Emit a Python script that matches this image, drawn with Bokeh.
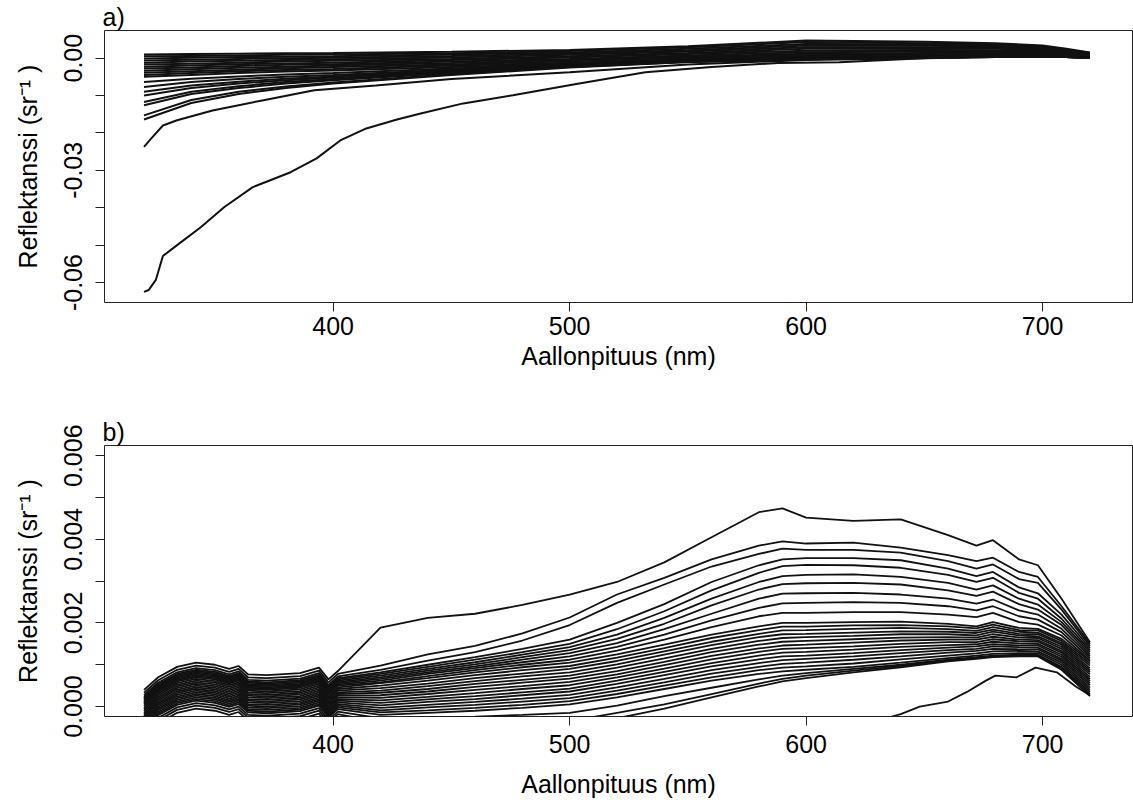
from bokeh.plotting import figure
from bokeh.layouts import column
from bokeh.models import Range1d, FixedTicker, NumeralTickFormatter
from bokeh.embed import file_html
from bokeh.resources import INLINE

FONT = "Liberation Sans"

# ---------------- shared axis data ----------------
X_TICKS = [400, 500, 600, 700]
X_TITLE = "Aallonpituus (nm)"
Y_TITLE = "Reflektanssi (sr\u207b\u00b9 )"

# ---------------- panel a (values in 1e-4 sr^-1) ----------------
A_WL = [320, 340, 360, 380, 400, 450, 500, 550, 600, 650, 680, 700, 710, 720]
A_DENSE = [
    [10, 11, 12, 13, 14, 17, 22, 32, 47, 44, 40, 34, 25, 15],
    [5, 6, 7, 9, 10, 13, 19, 29, 43, 40, 37, 32, 23, 14],
    [-1, 1, 3, 4, 5, 10, 15, 25, 38, 37, 34, 29, 21, 13],
    [-6, -4, -2, 0, 1, 6, 12, 21, 34, 33, 31, 27, 20, 11],
    [-12, -9, -7, -5, -3, 2, 9, 18, 29, 29, 28, 24, 18, 10],
    [-17, -15, -12, -9, -7, -2, 5, 14, 25, 25, 25, 22, 16, 9],
    [-23, -20, -16, -14, -12, -5, 2, 11, 20, 22, 21, 19, 14, 8],
    [-28, -25, -21, -18, -16, -9, -2, 7, 16, 18, 18, 17, 12, 7],
    [-34, -30, -26, -23, -20, -13, -5, 4, 12, 14, 15, 14, 10, 6],
    [-39, -35, -31, -27, -24, -17, -8, 1, 9, 11, 12, 12, 9, 4],
    [-45, -40, -35, -32, -29, -20, -12, -2, 6, 8, 9, 10, 7, 3],
    [-50, -45, -40, -36, -33, -24, -15, -5, 3, 5, 7, 7, 5, 2],
]
A_SPARSE = [
    [-64, -55, -49, -44, -40, -28, -17, -6, 0, 3, 5, 6, 4, 2],
    [-77, -64, -56, -50, -45, -31, -19, -7, -1, 3, 5, 5, 4, 1],
    [-90, -73, -63, -55, -49, -34, -20, -8, -1, 2, 4, 5, 3, 1],
    [-100, -80, -68, -59, -52, -36, -21, -8, -2, 2, 4, 5, 3, 1],
    [-117, -90, -75, -64, -56, -38, -22, -9, -2, 2, 4, 5, 3, 1],
    [-126, -96, -80, -68, -59, -40, -23, -9, -2, 2, 4, 5, 3, 1],
    [-153, -112, -90, -76, -65, -43, -24, -10, -3, 1, 3, 5, 3, 1],
    [-164, -120, -96, -80, -68, -45, -25, -10, -3, 1, 3, 5, 3, 1],
]
A2_WL = [320, 323, 328, 334, 349, 370, 392, 418, 450, 500, 550, 600, 650, 680, 700, 720]
A2 = [-237, -215, -180, -166, -140, -113, -86, -73, -56, -38, -17, -5, 0, 3, 5, 1]
A1_WL = [320, 322, 325, 328, 334, 344, 354, 366, 382, 393, 403, 414, 427, 437,
         455, 476, 504, 532, 560, 588, 614, 656, 684, 700, 720]
A1 = [-625, -620, -593, -529, -500, -452, -398, -345, -305, -268, -220, -188, -164, -148,
      -121, -99, -68, -38, -24, -13, -11, 2, 7, 10, 8]
A_YTICKS = [-0.06, -0.03, 0.0]
A_YMINOR = [-0.05, -0.04, -0.02, -0.01]

# ---------------- panel b (values in 1e-5 sr^-1) ----------------
B_WL = [320, 326, 334, 342, 350, 356, 360, 364, 372, 386, 394, 398, 402,
        420, 440, 460, 480, 500, 520, 540, 560, 580, 590, 600, 620, 640,
        660, 672, 679, 690, 698, 708, 720]
B_UPPER = [
    [40, 70, 95, 105, 100, 90, 97, 77, 75, 80, 93, 65, 85,
     189, 212, 222, 243, 268, 298, 345, 405, 465, 474, 452, 444, 448, 410, 385, 398, 352, 338, 258, 154],
    [33, 63, 88, 98, 93, 83, 90, 70, 68, 73, 86, 58, 78,
     98, 125, 145, 175, 213, 268, 308, 352, 385, 395, 390, 392, 380, 362, 348, 356, 322, 310, 240, 150],
    [27, 57, 82, 92, 87, 77, 84, 64, 62, 67, 80, 52, 72,
     88, 110, 130, 158, 195, 248, 292, 335, 365, 378, 375, 375, 368, 348, 330, 340, 305, 296, 232, 145],
    [23, 53, 78, 88, 83, 73, 80, 60, 58, 63, 76, 48, 68,
     82, 100, 118, 138, 160, 200, 245, 298, 338, 352, 355, 355, 350, 330, 312, 322, 285, 271, 220, 140],
    [20, 50, 75, 85, 80, 70, 77, 57, 55, 60, 73, 45, 65,
     78, 95, 112, 130, 150, 185, 228, 278, 320, 336, 339, 338, 332, 315, 298, 308, 272, 258, 210, 135],
    [17, 47, 72, 82, 77, 67, 74, 54, 52, 57, 70, 42, 62,
     74, 90, 106, 124, 142, 172, 212, 258, 298, 312, 315, 316, 310, 296, 280, 290, 258, 244, 202, 130],
    [14, 44, 69, 79, 74, 64, 71, 51, 49, 54, 67, 39, 59,
     70, 86, 101, 118, 135, 162, 198, 242, 280, 293, 295, 296, 292, 278, 265, 275, 245, 232, 195, 125],
    [11, 41, 66, 76, 71, 61, 68, 48, 46, 51, 64, 36, 56,
     66, 82, 96, 112, 128, 152, 185, 222, 258, 270, 271, 272, 268, 258, 246, 256, 230, 220, 186, 120],
    [8, 38, 63, 73, 68, 58, 65, 45, 43, 48, 61, 33, 53,
     62, 78, 92, 106, 120, 143, 172, 206, 236, 247, 248, 250, 248, 240, 230, 240, 216, 208, 178, 115],
    [5, 35, 60, 70, 65, 55, 62, 42, 40, 45, 58, 30, 50,
     58, 73, 87, 100, 112, 134, 160, 190, 216, 224, 224, 226, 226, 220, 214, 224, 202, 196, 170, 110],
]
B_DENSE = [
    [1, 31, 56, 66, 61, 51, 58, 38, 36, 41, 54, 26, 46,
     56, 68, 82, 94, 105, 125, 148, 172, 192, 200, 200, 202, 203, 198, 192, 202, 188, 186, 162, 108],
    [-3, 27, 52, 62, 57, 47, 54, 34, 32, 37, 50, 22, 42,
     50, 62, 75, 87, 97, 117, 140, 164, 183, 191, 191, 194, 195, 192, 187, 196, 183, 182, 157, 103],
    [-7, 23, 48, 58, 53, 43, 50, 30, 28, 33, 46, 18, 38,
     44, 55, 68, 79, 90, 109, 132, 155, 174, 182, 183, 186, 188, 185, 181, 190, 179, 177, 152, 98],
    [-11, 19, 44, 54, 49, 39, 46, 26, 24, 29, 42, 14, 34,
     38, 49, 61, 72, 82, 101, 124, 147, 166, 173, 174, 177, 180, 179, 176, 184, 174, 173, 148, 92],
    [-15, 15, 40, 50, 45, 35, 42, 22, 20, 25, 38, 10, 30,
     33, 42, 54, 64, 74, 93, 115, 138, 157, 164, 166, 169, 173, 173, 170, 179, 170, 168, 143, 87],
    [-19, 11, 36, 46, 41, 31, 38, 18, 16, 21, 34, 6, 26,
     27, 36, 47, 57, 67, 85, 107, 130, 148, 155, 157, 161, 165, 166, 165, 173, 165, 164, 138, 82],
    [-23, 7, 32, 42, 37, 27, 34, 14, 12, 17, 30, 2, 22,
     21, 30, 40, 49, 59, 77, 99, 121, 139, 146, 148, 153, 158, 160, 160, 167, 160, 159, 133, 77],
    [-27, 3, 28, 38, 33, 23, 30, 10, 8, 13, 26, -2, 18,
     15, 23, 32, 42, 51, 70, 91, 113, 131, 138, 140, 144, 150, 154, 154, 161, 156, 155, 129, 71],
    [-31, -1, 24, 34, 29, 19, 26, 6, 4, 9, 22, -6, 14,
     9, 17, 25, 34, 43, 62, 83, 104, 122, 129, 131, 136, 143, 147, 149, 155, 151, 150, 124, 66],
    [-35, -5, 20, 30, 25, 15, 22, 2, 0, 5, 18, -10, 10,
     3, 11, 18, 27, 36, 54, 75, 96, 113, 120, 122, 128, 135, 141, 144, 149, 146, 146, 119, 61],
    [-39, -9, 16, 26, 21, 11, 18, -2, -4, 1, 14, -14, 6,
     -3, 4, 11, 19, 28, 46, 66, 87, 104, 111, 114, 120, 128, 135, 138, 144, 142, 141, 114, 56],
    [-43, -13, 12, 22, 17, 7, 14, -6, -8, -3, 10, -18, 2,
     -9, -2, 4, 12, 20, 38, 58, 79, 95, 102, 105, 112, 120, 129, 133, 138, 137, 137, 110, 51],
    [-47, -17, 8, 18, 13, 3, 10, -10, -12, -7, 6, -22, -2,
     -14, -9, -3, 4, 13, 30, 50, 70, 87, 93, 96, 103, 113, 122, 127, 132, 133, 132, 105, 45],
    [-51, -21, 4, 14, 9, -1, 6, -14, -16, -11, 2, -26, -6,
     -20, -15, -10, -3, 5, 22, 42, 62, 78, 84, 88, 95, 105, 116, 122, 126, 128, 128, 100, 40],
]
B_LOWER = [
    [-57, -27, -2, 8, 3, -7, 0, -20, -22, -17, -4, -32, -12,
     -28, -26, -24, -20, -15, 2, 25, 45, 65, 74, 80, 90, 100, 112, 118, 122, 124, 124, 95, 35],
    [-63, -33, -8, 2, -3, -13, -6, -26, -28, -23, -10, -38, -18,
     -38, -40, -40, -38, -35, -15, 5, 30, 55, 66, 74, 86, 97, 110, 116, 120, 122, 122, 92, 30],
    [-70, -40, -15, -5, -10, -20, -13, -33, -35, -30, -17, -45, -25,
     -48, -52, -54, -53, -50, -28, -5, 22, 48, 60, 68, 82, 94, 108, 114, 118, 120, 120, 88, 25],
]
B_BOTTOM_WL = [560, 580, 600, 620, 640, 648, 660, 668, 676, 680, 689, 697, 706, 714, 720]
B_BOTTOM = [-180, -130, -85, -50, -18, 0, 12, 35, 62, 74, 70, 93, 82, 48, 27]
B_YTICKS = [0.0, 0.002, 0.004, 0.006]
B_YMINOR = [0.001, 0.003, 0.005]

X_RANGE = (303.3, 738.0)
A_YRANGE = (-0.06533, 0.00739)
B_YRANGE = (-0.000238, 0.006245)

LINE_COLOR = "#111111"


def make_fig(height, top, bottom, yrange, yticks, yminor, yfmt, panel,
             xlab_standoff, xtitle_standoff):
    p = figure(width=1133, height=height, output_backend="svg", toolbar_location=None,
               x_range=Range1d(*X_RANGE), y_range=Range1d(*yrange),
               min_border_left=104, min_border_right=1,
               min_border_top=top, min_border_bottom=bottom)
    p.title.text = panel
    p.title.align = "left"
    p.title.text_font = FONT
    p.title.text_font_size = "25px"
    p.title.text_font_style = "normal"
    p.title.text_color = "black"
    p.title.standoff = 0
    p.title.offset = -2
    p.outline_line_color = "#222222"
    p.outline_line_width = 1
    p.xgrid.visible = False
    p.ygrid.visible = False
    p.background_fill_color = "white"
    p.border_fill_color = "white"
    for ax in (p.xaxis[0], p.yaxis[0]):
        ax.axis_line_color = None
        ax.major_tick_line_color = "#222222"
        ax.major_tick_out = 9
        ax.major_tick_in = 0
        ax.minor_tick_line_color = None
        ax.major_label_text_font = FONT
        ax.major_label_text_font_size = "25px"
        ax.major_label_text_color = "black"
        ax.axis_label_text_font = FONT
        ax.axis_label_text_font_size = "25px"
        ax.axis_label_text_font_style = "normal"
        ax.axis_label_text_color = "black"
    p.xaxis.ticker = FixedTicker(ticks=X_TICKS)
    p.xaxis.major_label_standoff = xlab_standoff
    p.xaxis.axis_label_standoff = xtitle_standoff
    p.xaxis.axis_label = X_TITLE
    p.yaxis.ticker = FixedTicker(ticks=yticks, minor_ticks=yminor)
    p.yaxis.minor_tick_line_color = "#222222"
    p.yaxis.minor_tick_out = 9
    p.yaxis.minor_tick_in = 0
    p.yaxis.formatter = NumeralTickFormatter(format=yfmt)
    p.yaxis.major_label_orientation = "vertical"
    p.yaxis.major_label_standoff = 13
    p.yaxis.axis_label_standoff = 20
    p.yaxis.axis_label = Y_TITLE
    return p


pa = make_fig(380, 30, 78, A_YRANGE, A_YTICKS, A_YMINOR, "0.00", "a)", 5, 4)
a_xs, a_ys = [], []
for c in A_DENSE + A_SPARSE:
    a_xs.append(A_WL)
    a_ys.append([v * 1e-4 for v in c])
a_xs.append(A2_WL)
a_ys.append([v * 1e-4 for v in A2])
a_xs.append(A1_WL)
a_ys.append([v * 1e-4 for v in A1])
pa.multi_line(xs=a_xs, ys=a_ys, line_color=LINE_COLOR, line_width=2.0)

pb = make_fig(420, 65, 83, B_YRANGE, B_YTICKS, B_YMINOR, "0.000", "b)", 9, 14)
b_xs, b_ys = [], []
for c in B_UPPER + B_DENSE + B_LOWER:
    b_xs.append(B_WL)
    b_ys.append([v * 1e-5 for v in c])
b_xs.append(B_BOTTOM_WL)
b_ys.append([v * 1e-5 for v in B_BOTTOM])
pb.multi_line(xs=b_xs, ys=b_ys, line_color=LINE_COLOR, line_width=1.8)

layout = column(pa, pb, spacing=0)
open("out.html", "w").write(file_html(layout, INLINE))
